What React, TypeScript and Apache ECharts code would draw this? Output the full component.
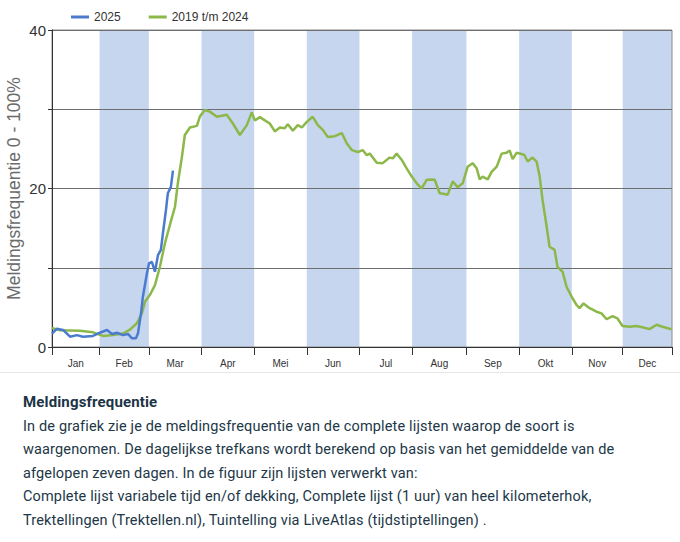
import { useEffect, useRef } from "react";
import * as echarts from "echarts";

const monthNames = ["Jan", "Feb", "Mar", "Apr", "Mei", "Jun", "Jul", "Aug", "Sep", "Okt", "Nov", "Dec"];
// day-of-year where each month column starts, plus the end of the year
const monthStarts = [0, 28, 57, 88, 119, 150, 181, 212, 244, 275, 306, 336, 365];
const shadedMonths = [1, 3, 5, 7, 9, 11];

const greenDays = [
  0, 4.7, 16.5, 24.1, 30, 35.9, 41.8, 45.9, 50, 52.9, 54.7, 57.6, 60.6, 63.5, 66.5, 69.4, 72.4, 74.1, 76.5, 78.2,
  81.2, 85.3, 87.1, 90, 92.9, 97.1, 102.9, 106.5, 110.6, 114.7, 117.6, 119.4, 122.4, 125.3, 128.2, 131.2, 134.1,
  137, 138.8, 141.8, 144.7, 147.1, 150, 153.5, 156.5, 159.4, 162.4, 166.5, 170.6, 173.5, 176.5, 180, 182.9, 185.3,
  187.1, 191.2, 194.7, 198.8, 200.6, 202.9, 205.9, 208.8, 211.8, 214.7, 217.6, 220.6, 223.5, 225.3, 228.2, 231.2,
  232.9, 235.9, 238.8, 241.8, 244.7, 247.6, 250, 251.8, 253.5, 256.5, 258.8, 261.8, 264.7, 267.6, 269.4, 271.2,
  273.5, 276.5, 278.2, 280, 282.9, 285.3, 287.1, 288.8, 291.2, 292.9, 295.9, 297.6, 300.6, 302.9, 305.9, 308.8,
  310.6, 312.9, 316.5, 320.6, 323.5, 326.5, 330, 332.9, 335.9, 340, 344.1, 347.6, 351.8, 355.9, 359.4, 364.7
];
const greenValues = [
  2.4, 2.1, 2.05, 1.85, 1.4, 1.5, 1.7, 2.2, 3.0, 4.25, 5.7, 6.55, 7.8, 10.1, 13.1, 15.4, 17.7, 20.7, 24.0, 26.75,
  27.7, 27.9, 29.1, 29.9, 29.7, 29.05, 29.3, 28.2, 26.75, 28.0, 29.6, 28.6, 29.0, 28.6, 28.2, 27.2, 27.7,
  27.6, 28.1, 27.3, 28.0, 27.7, 28.4, 29.05, 28.0, 27.4, 26.5, 26.6, 27.0, 25.7, 24.85, 24.6, 24.85, 24.2,
  24.4, 23.25, 23.2, 23.9, 23.8, 24.4, 23.6, 22.55, 21.5, 20.65, 20.0, 21.1, 21.15, 21.1, 19.4, 19.3,
  19.2, 20.9, 20.15, 20.65, 22.75, 23.2, 22.55, 21.15, 21.5, 21.15, 22.1, 22.75, 24.4, 24.5, 24.8, 23.7,
  24.5, 24.35, 24.2, 23.4, 23.9, 23.4, 21.5, 18.55, 15.2, 12.65, 12.25, 10.1, 9.5, 7.6, 6.35, 5.3,
  4.9, 5.5, 4.9, 4.45, 4.25, 3.5, 3.9, 3.6, 2.65, 2.55, 2.65, 2.5, 2.25, 2.8, 2.55, 2.25
];

const blueDays = [
  0, 2.9, 6.5, 10.6, 14.7, 18.2, 24.1, 28.2, 32.4, 35.3, 38.2, 41.8, 44.7, 47.1, 49.4, 50.6, 52.4, 53.5, 55.9,
  57.1, 58.8, 60.6, 62.4, 64.1, 65.3, 67.1, 68.2, 70, 71.2
];
const blueValues = [
  1.7, 2.3, 2.15, 1.3, 1.5, 1.3, 1.4, 1.8, 2.15, 1.65, 1.8, 1.5, 1.65, 1.1, 1.1, 1.7, 4.25, 6.35, 9.3,
  10.55, 10.75, 9.5, 11.6, 12.25, 14.35, 17.3, 19.4, 20.2, 22.25
];

const paragraphLines = [
  "In de grafiek zie je de meldingsfrequentie van de complete lijsten waarop de soort is",
  "waargenomen. De dagelijkse trefkans wordt berekend op basis van het gemiddelde van de",
  "afgelopen zeven dagen. In de figuur zijn lijsten verwerkt van:",
  "Complete lijst variabele tijd en/of dekking, Complete lijst (1 uur) van heel kilometerhok,",
  "Trektellingen (Trektellen.nl), Tuintelling via LiveAtlas (tijdstiptellingen) ."
];

export default function App() {
  const chartRef = useRef<HTMLDivElement>(null);

  useEffect(() => {
    document.body.style.margin = "0";
    if (!chartRef.current) return;
    const chart = echarts.init(chartRef.current, null, { renderer: "svg" });

    const monthMids = monthNames.map((_, i) => (monthStarts[i] + monthStarts[i + 1]) / 2);
    const bands = shadedMonths.map(i => [{ xAxis: monthStarts[i] }, { xAxis: monthStarts[i + 1] }]);

    chart.setOption({
      animation: false,
      textStyle: { fontFamily: "Liberation Sans, Arial, sans-serif" },
      legend: {
        data: ["2025", "2019 t/m 2024"],
        left: 66,
        top: 6,
        icon: "rect",
        itemWidth: 18,
        itemHeight: 3,
        itemGap: 28,
        textStyle: { fontSize: 12, color: "#333" }
      },
      grid: {
        left: 52,
        right: 8,
        top: 30,
        bottom: 25,
        outerBoundsMode: "none",
        containLabel: false,
        show: true,
        borderColor: "#8a8a8a",
        borderWidth: 1,
        backgroundColor: "transparent",
        z: 1.5
      },
      xAxis: {
        type: "value",
        min: 0,
        max: 365,
        z: 1.5,
        splitLine: { show: false },
        axisLine: { lineStyle: { color: "#333", width: 1 } },
        axisTick: { customValues: monthStarts, length: 8, lineStyle: { color: "#333" } },
        axisLabel: {
          customValues: monthMids,
          fontSize: 10,
          color: "#333",
          margin: 11,
          formatter: (v: number) => {
            const i = monthMids.findIndex(m => Math.abs(m - v) < 0.01);
            return i >= 0 ? monthNames[i] : "";
          }
        }
      },
      yAxis: {
        type: "value",
        min: 0,
        max: 40,
        interval: 10,
        z: 1.5,
        name: "Meldingsfrequentie 0 - 100%",
        nameLocation: "middle",
        nameGap: 29,
        nameMoveOverlap: false,
        nameTextStyle: { fontSize: 17.5, color: "#6b6b6b" },
        axisLine: { show: true, lineStyle: { color: "#333", width: 1 } },
        axisTick: { show: true, length: 4, lineStyle: { color: "#333" } },
        axisLabel: {
          fontSize: 15,
          color: "#333",
          margin: 6,
          formatter: (v: number) => (v % 20 === 0 ? String(v) : "")
        },
        splitLine: { show: true, lineStyle: { color: "#6e6e6e", width: 1 } }
      },
      series: [
        {
          name: "bands",
          type: "line",
          data: [],
          z: 1,
          silent: true,
          markArea: { silent: true, itemStyle: { color: "#c6d6ee" }, data: bands }
        },
        {
          name: "2019 t/m 2024",
          type: "line",
          z: 3,
          symbol: "none",
          color: "#8cb84a",
          lineStyle: { width: 2.5, color: "#8cb84a" },
          data: greenDays.map((d, i) => [d, greenValues[i]])
        },
        {
          name: "2025",
          type: "line",
          z: 4,
          symbol: "none",
          color: "#4a7bcf",
          lineStyle: { width: 2.5, color: "#4a7bcf" },
          data: blueDays.map((d, i) => [d, blueValues[i]])
        }
      ]
    });

    return () => {
      chart.dispose();
    };
  }, []);

  return (
    <div style={{ width: 680, background: "#fff" }}>
      <div ref={chartRef} style={{ width: 680, height: 372 }} />
      <div style={{ borderTop: "1px solid #e6e6e6", padding: "18px 0 0 23px", fontFamily: "Roboto, sans-serif", fontSize: 14.5, letterSpacing: "0.15px", lineHeight: "23.6px", color: "#223747", whiteSpace: "nowrap" }}>
        <div style={{ fontWeight: 700, fontSize: 15, color: "#1b3446" }}>Meldingsfrequentie</div>
        {paragraphLines.map((line, i) => (
          <div key={i}>{line}</div>
        ))}
      </div>
    </div>
  );
}
